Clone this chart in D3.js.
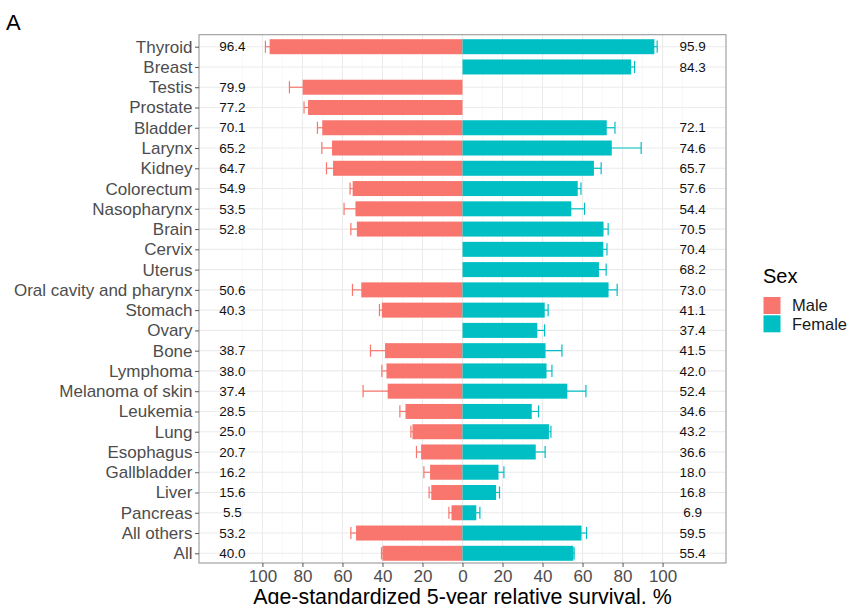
<!DOCTYPE html>
<html>
<head>
<meta charset="utf-8">
<script src="https://cdn.jsdelivr.net/npm/d3@7/dist/d3.min.js"></script>
<style>
  html, body { margin: 0; padding: 0; background: #fff; }
  svg { display: block; font-family: "Liberation Sans", Arial, sans-serif; }
</style>
</head>
<body>
<svg id="chart" width="850" height="604"></svg>
<script>
// Cancer sites, top to bottom
const sites = ["Thyroid", "Breast", "Testis", "Prostate", "Bladder", "Larynx", "Kidney",
  "Colorectum", "Nasopharynx", "Brain", "Cervix", "Uterus", "Oral cavity and pharynx",
  "Stomach", "Ovary", "Bone", "Lymphoma", "Melanoma of skin", "Leukemia", "Lung",
  "Esophagus", "Gallbladder", "Liver", "Pancreas", "All others", "All"];

// Age-standardized 5-year relative survival (%), with 95% CI bounds
const maleValue = [96.4, null, 79.9, 77.2, 70.1, 65.2, 64.7, 54.9, 53.5, 52.8, null, null, 50.6,
  40.3, null, 38.7, 38.0, 37.4, 28.5, 25.0, 20.7, 16.2, 15.6, 5.5, 53.2, 40.0];
const maleUpper = [98.5, null, 86.5, 79.2, 72.5, 70.3, 68.0, 56.2, 59.2, 55.8, null, null, 55.0,
  41.5, null, 46.0, 40.3, 49.7, 31.3, 25.8, 23.0, 19.3, 16.7, 6.8, 55.8, 40.5];
const maleLower = [94.3, null, 73.3, 75.2, 67.7, 60.1, 61.4, 53.6, 47.8, 49.8, null, null, 46.2,
  39.1, null, 31.4, 35.7, 25.1, 25.7, 24.2, 18.4, 13.1, 14.5, 4.2, 50.6, 39.5];

const femaleValue = [95.9, 84.3, null, null, 72.1, 74.6, 65.7, 57.6, 54.4, 70.5, 70.4, 68.2, 73.0,
  41.1, 37.4, 41.5, 42.0, 52.4, 34.6, 43.2, 36.6, 18.0, 16.8, 6.9, 59.5, 55.4];
const femaleUpper = [97.3, 86.0, null, null, 76.2, 89.3, 69.3, 59.2, 61.0, 72.8, 72.2, 71.8, 77.3,
  42.8, 41.0, 49.7, 44.7, 61.7, 38.0, 44.2, 41.3, 20.7, 18.5, 8.7, 62.0, 55.8];
const femaleLower = [94.5, 82.6, null, null, 68.0, 59.9, 62.1, 56.0, 47.8, 68.2, 68.6, 64.6, 68.7,
  39.4, 33.8, 33.3, 39.3, 43.1, 31.2, 42.2, 31.9, 15.3, 15.1, 5.1, 57.0, 55.0];

const xTicks = [-100, -80, -60, -40, -20, 0, 20, 40, 60, 80, 100];
const xMinor = [-110, -90, -70, -50, -30, -10, 10, 30, 50, 70, 90, 110];
const sexLabels = ["Male", "Female"];
const sexColors = ["#F8766D", "#00BFC4"];

// Layout
const panel = { left: 199, right: 726, top: 34.7, bottom: 563 };
const labelPos = 115; // survival labels sit outside the bars on either side

const svg = d3.select("#chart");

const x = d3.scaleLinear().domain([-131.7, 131.7]).range([panel.left, panel.right]);
const y = d3.scalePoint().domain(sites).range([46.7, 553.3]);
const barH = y.step() * 0.74;
const capH = y.step() * 0.6;

// Rows of data: male drawn to the left (negative), female to the right
const rows = [];
sites.forEach((s, i) => {
  if (maleValue[i] != null) rows.push({ site: s, sex: 0, v: -maleValue[i], lo: -maleLower[i], hi: -maleUpper[i], label: maleValue[i] });
  if (femaleValue[i] != null) rows.push({ site: s, sex: 1, v: femaleValue[i], lo: femaleLower[i], hi: femaleUpper[i], label: femaleValue[i] });
});

// Panel background
svg.append("rect")
  .attr("x", panel.left).attr("y", panel.top)
  .attr("width", panel.right - panel.left).attr("height", panel.bottom - panel.top)
  .attr("fill", "#fff");

// Grid
const grid = svg.append("g");
grid.selectAll(".minor").data(xMinor).join("line")
  .attr("x1", d => x(d)).attr("x2", d => x(d))
  .attr("y1", panel.top).attr("y2", panel.bottom)
  .attr("stroke", "#f3f3f3").attr("stroke-width", 0.6);
grid.selectAll(".major").data(xTicks).join("line")
  .attr("x1", d => x(d)).attr("x2", d => x(d))
  .attr("y1", panel.top).attr("y2", panel.bottom)
  .attr("stroke", "#ebebeb").attr("stroke-width", 1.1);
grid.selectAll(".hmajor").data(sites).join("line")
  .attr("x1", panel.left).attr("x2", panel.right)
  .attr("y1", d => y(d)).attr("y2", d => y(d))
  .attr("stroke", "#ebebeb").attr("stroke-width", 1.1);

// Error bars (drawn first; bars cover the inner half)
const eb = svg.append("g");
rows.forEach(r => {
  const c = sexColors[r.sex];
  const cy = y(r.site);
  eb.append("line").attr("x1", x(r.lo)).attr("x2", x(r.hi)).attr("y1", cy).attr("y2", cy)
    .attr("stroke", c).attr("stroke-width", 1.2);
  [r.lo, r.hi].forEach(e => {
    eb.append("line").attr("x1", x(e)).attr("x2", x(e))
      .attr("y1", cy - capH / 2).attr("y2", cy + capH / 2)
      .attr("stroke", c).attr("stroke-width", 1.2);
  });
});

// Bars
svg.append("g").selectAll("rect").data(rows).join("rect")
  .attr("x", d => Math.min(x(0), x(d.v)))
  .attr("width", d => Math.abs(x(d.v) - x(0)))
  .attr("y", d => y(d.site) - barH / 2)
  .attr("height", barH)
  .attr("fill", d => sexColors[d.sex]);

// Value labels
svg.append("g").selectAll("text").data(rows).join("text")
  .attr("x", d => x(d.sex === 0 ? -labelPos : labelPos))
  .attr("y", d => y(d.site))
  .attr("dy", "0.35em")
  .attr("text-anchor", "middle")
  .attr("font-size", 13.5)
  .attr("fill", "#111")
  .text(d => d3.format(".1f")(d.label));

// Panel border
svg.append("rect")
  .attr("x", panel.left).attr("y", panel.top)
  .attr("width", panel.right - panel.left).attr("height", panel.bottom - panel.top)
  .attr("fill", "none").attr("stroke", "#9a9a9a").attr("stroke-width", 1.1);

// Axes
const xAxis = svg.append("g")
  .attr("transform", `translate(0,${panel.bottom})`)
  .call(d3.axisBottom(x).tickValues(xTicks).tickFormat(d => Math.abs(d)).tickSize(4).tickPadding(3));
xAxis.select(".domain").remove();
xAxis.selectAll(".tick line").attr("stroke", "#555");
xAxis.selectAll(".tick text").attr("font-size", 17).attr("fill", "#4d4d4d")
  .attr("font-family", "Liberation Sans, Arial, sans-serif");

const yAxis = svg.append("g")
  .attr("transform", `translate(${panel.left},0)`)
  .call(d3.axisLeft(y).tickSize(4).tickPadding(2.5));
yAxis.select(".domain").remove();
yAxis.selectAll(".tick line").attr("stroke", "#555");
yAxis.selectAll(".tick text").attr("font-size", 17).attr("fill", "#4d4d4d")
  .attr("font-family", "Liberation Sans, Arial, sans-serif");

// Axis title (runs into the bottom edge of the figure)
svg.append("text")
  .attr("x", x(0)).attr("y", 603.5)
  .attr("text-anchor", "middle")
  .attr("font-size", 21.4)
  .attr("fill", "#000")
  .text("Age-standardized 5-year relative survival, %");

// Panel tag
svg.append("text")
  .attr("x", 6).attr("y", 30)
  .attr("font-size", 22)
  .attr("fill", "#000")
  .text("A");

// Legend
const lg = svg.append("g").attr("transform", "translate(763,0)");
lg.append("text").attr("x", 0).attr("y", 283).attr("font-size", 20).attr("fill", "#000").text("Sex");
sexLabels.forEach((s, i) => {
  const top = 297 + i * 18.3;
  lg.append("rect").attr("x", 0.5).attr("y", top).attr("width", 17).attr("height", 17)
    .attr("fill", sexColors[i]);
  lg.append("text").attr("x", 29).attr("y", top + 8.5).attr("dy", "0.35em")
    .attr("font-size", 16.5).attr("fill", "#1a1a1a").text(s);
});
</script>
</body>
</html>
